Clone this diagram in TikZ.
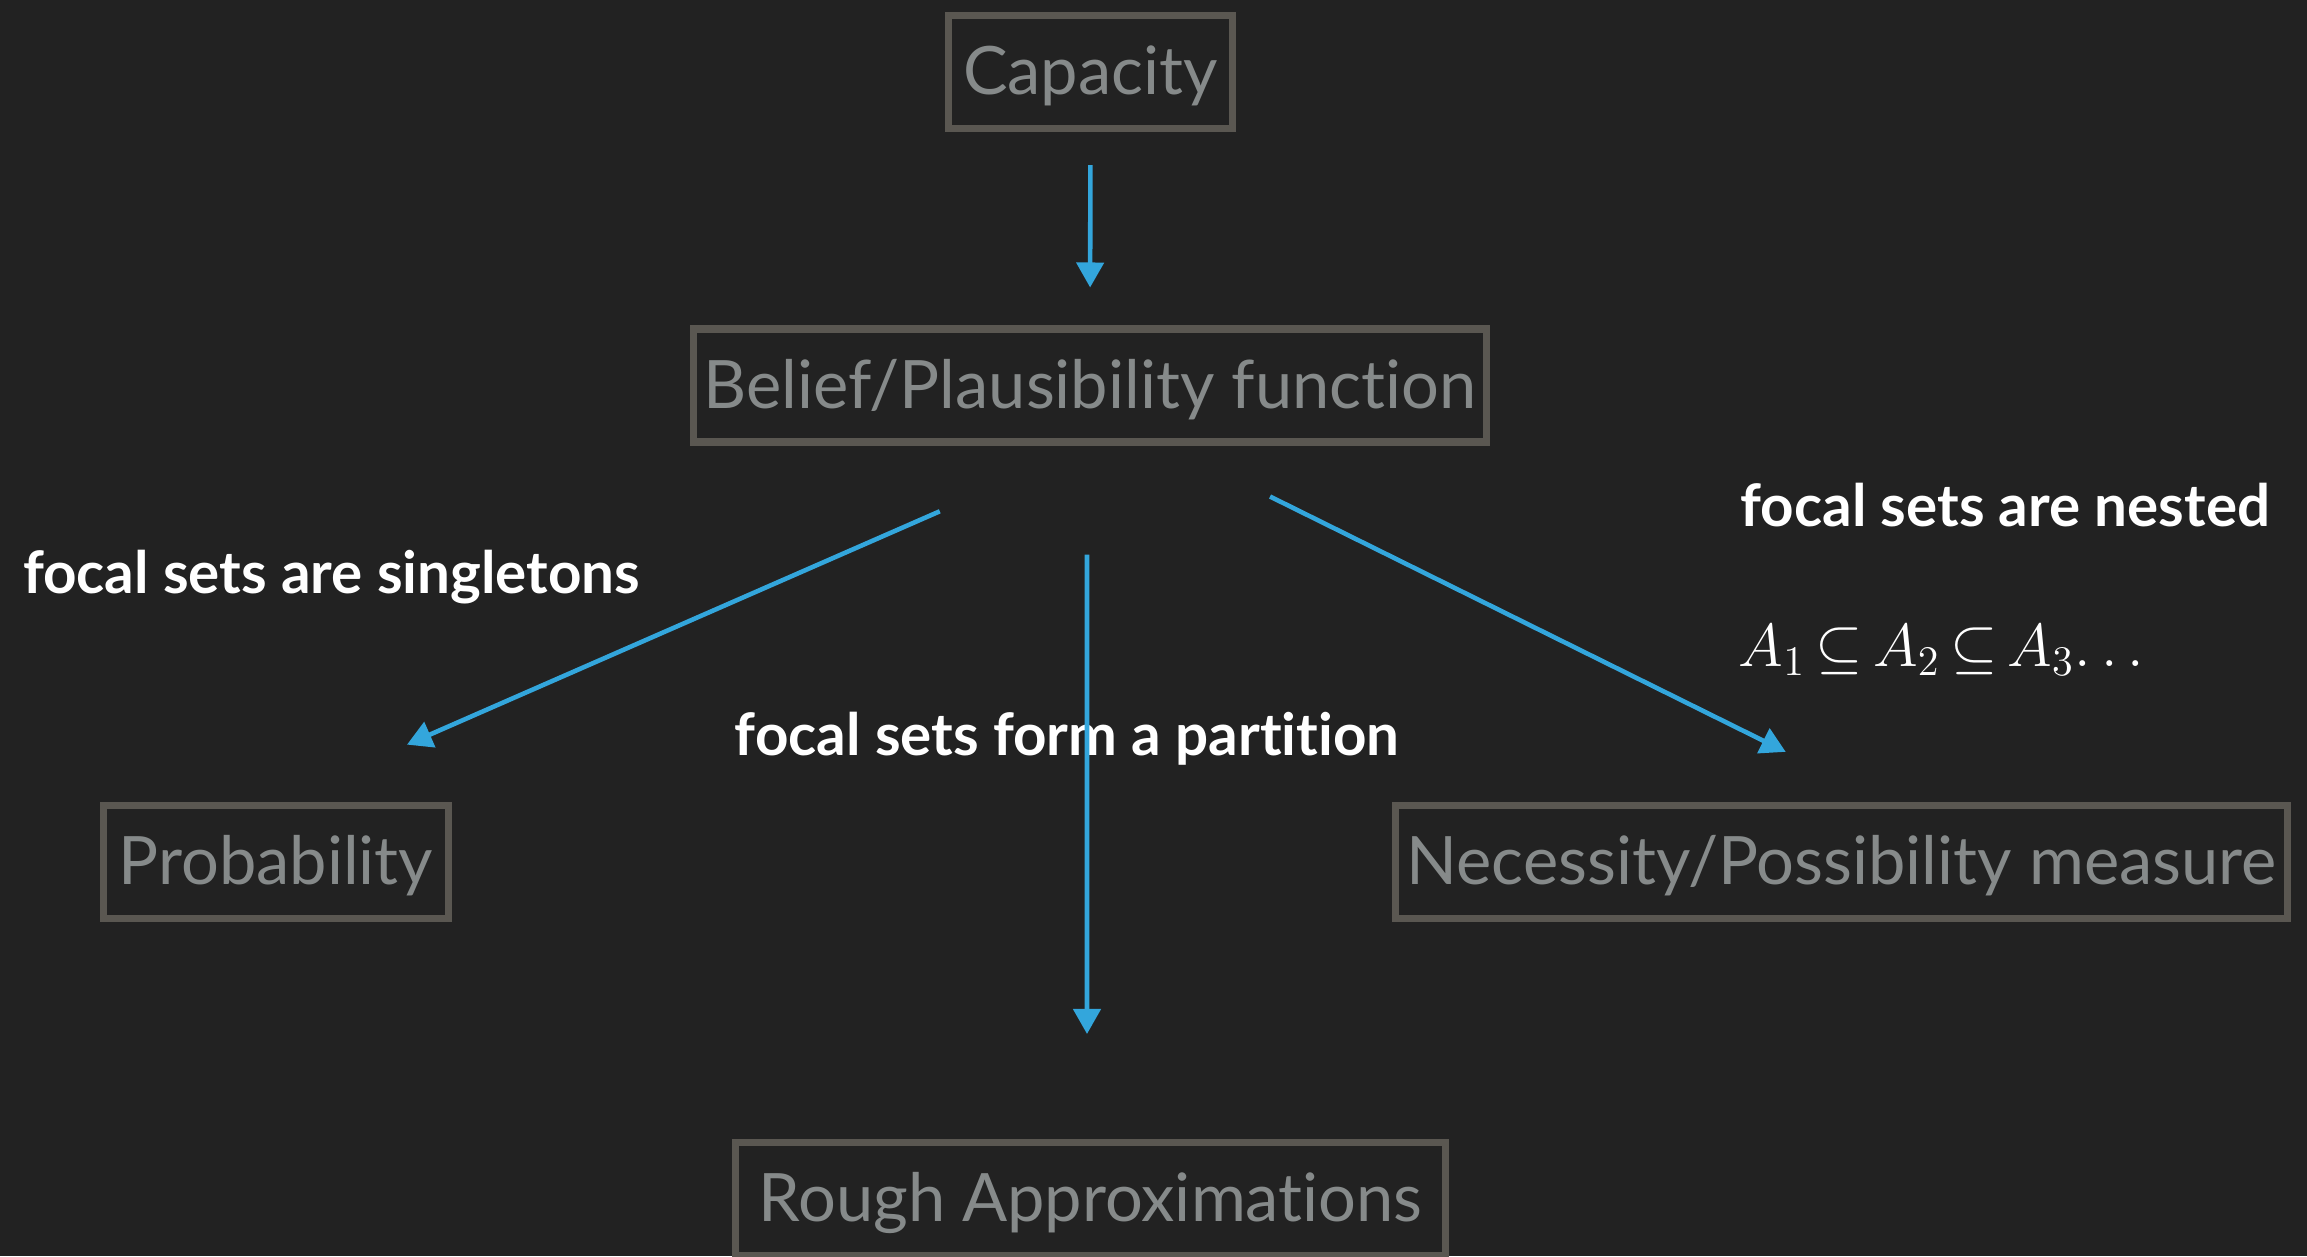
\documentclass[tikz,border=0pt]{standalone}
\usepackage{fontspec}
\setmainfont[Ligatures=NoCommon]{Lato}
\usetikzlibrary{arrows.meta}

\definecolor{bgdark}{HTML}{222222}
\definecolor{boxline}{HTML}{5A5751}
\definecolor{boxtext}{HTML}{868A8A}
\definecolor{flowblue}{HTML}{33A6DC}

\begin{document}
\begin{tikzpicture}[>={Triangle[length=2.5mm,width=2.7mm]},
	blockbox/.style={rectangle, draw=boxline, line width=2pt, text=boxtext, font=\fontsize{19}{23}\selectfont, text height=16.6pt, text depth=3.6pt, minimum height=1.13cm, inner sep=0pt},
	flow/.style={->, draw=flowblue, line width=1.3pt},
	focal/.style={text=white, font=\fontsize{16.6}{20}\selectfont\bfseries, inner sep=0pt}]
	\useasboundingbox[fill=bgdark] (0,0) rectangle (23.07,-12.56);
	% boxes
	\node [blockbox, minimum width=2.84cm] (capacity) at (10.905,-0.72) {Capacity};
	\node [blockbox, minimum width=7.93cm] (belief) at (10.90,-3.855) {Belief/Plausibility function};
	\node [blockbox, minimum width=3.45cm] (prob) at (2.76,-8.62) {Probability};
	\node [blockbox, minimum width=8.92cm] (necess) at (18.415,-8.62) {Necessity/Possibility measure};
	\node [blockbox, minimum width=7.10cm] (rough) at (10.905,-11.99) {Rough Approximations};
	% labels
	\node [focal] (singl) at (3.315,-5.77) {focal sets are singletons};
	\node [focal] (partit) at (10.67,-7.39) {focal sets form a partition};
	\node [focal, anchor=west] (nested) at (17.40,-5.05) {focal sets are nested};
	\node [text=white, anchor=west, inner sep=0pt, font=\fontsize{18}{22}\selectfont] (chain) at (17.38,-6.50) {$\thickmuskip=3mu A_1 \subseteq A_2 \subseteq A_3{\ldots}$};
	% arrows
	\draw [flow, shorten <=0.33cm, shorten >=0.38cm] (capacity.south) -- (belief.north);
	\draw [flow, shorten <=1.64cm, shorten >=1.43cm] (belief.south) -- (prob.north);
	\draw [flow, shorten <=1.09cm, shorten >=1.05cm] ([xshift=-0.03cm]belief.south) -- ([xshift=-0.035cm]rough.north);
	\draw [flow, shorten <=1.15cm, shorten >=1.13cm] ([xshift=0.77cm]belief.south) -- ([xshift=0.455cm]necess.north);
\end{tikzpicture}
\end{document}
